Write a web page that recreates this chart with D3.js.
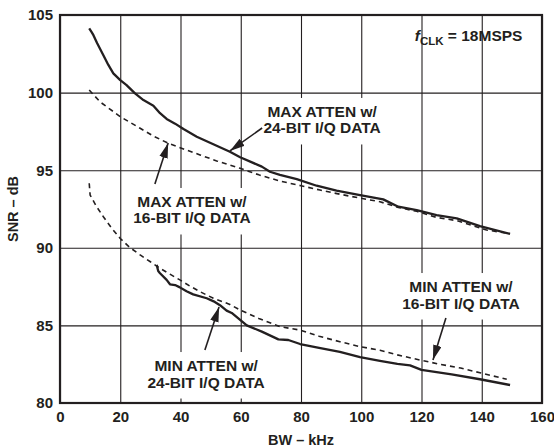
<!DOCTYPE html>
<html>
<head>
<meta charset="utf-8">
<script src="https://cdn.jsdelivr.net/npm/d3@7/dist/d3.min.js"></script>
<style>
  html, body { margin: 0; padding: 0; background: #fff; overflow: hidden; }
  svg { display: block; }
  text { font-family: "Liberation Sans", Arial, Helvetica, sans-serif; font-weight: bold; fill: #231f20; }
</style>
</head>
<body>
<div id="chart"></div>
<script>
/* global d3 */

// axis ticks
var bwTicks = [ 0, 20, 40, 60, 80, 100, 120, 140, 160 ];
var snrTicks = [ 80, 85, 90, 95, 100, 105 ];

// [BW kHz, SNR dB]
var max24 = [
  [ 9.7, 104.14 ], [ 10.5, 103.9 ], [ 11.1, 103.7 ], [ 12.3, 103.2 ], [ 14.4, 102.4 ],
  [ 16, 101.8 ], [ 17.7, 101.24 ], [ 20, 100.8 ], [ 22, 100.5 ], [ 24.9, 99.95 ],
  [ 27.7, 99.52 ], [ 31, 99.16 ], [ 33.2, 98.67 ], [ 35.4, 98.3 ], [ 38.2, 98.0 ],
  [ 41, 97.65 ], [ 45.4, 97.16 ], [ 50.9, 96.67 ], [ 56.4, 96.19 ], [ 59.8, 95.83 ],
  [ 67, 95.23 ], [ 69.7, 94.9 ], [ 73, 94.7 ], [ 78.6, 94.43 ], [ 85.2, 94.0 ],
  [ 91.8, 93.68 ], [ 99.6, 93.4 ], [ 107.3, 93.12 ], [ 112.3, 92.65 ], [ 118.4, 92.43 ],
  [ 125, 92.1 ], [ 131.7, 91.9 ], [ 139.4, 91.4 ], [ 149.4, 90.9 ]
];
var max16 = [
  [ 9.7, 100.17 ], [ 13.3, 99.4 ], [ 20, 98.45 ], [ 26.6, 97.7 ], [ 31, 97.2 ],
  [ 36, 96.73 ], [ 42, 96.3 ], [ 46.5, 95.98 ], [ 52, 95.6 ], [ 59.8, 95.12 ],
  [ 66, 94.7 ], [ 73, 94.3 ], [ 80, 94.0 ], [ 86.3, 93.72 ], [ 93, 93.45 ],
  [ 99.6, 93.2 ], [ 106.2, 92.97 ], [ 112.3, 92.6 ], [ 118.4, 92.35 ], [ 125, 91.96 ],
  [ 131.7, 91.75 ], [ 141.6, 91.15 ], [ 148, 90.95 ]
];
var min24 = [
  [ 32.1, 88.9 ], [ 32.6, 88.5 ], [ 33.2, 88.36 ], [ 35.4, 87.93 ], [ 36.5, 87.65 ],
  [ 38.2, 87.6 ], [ 39.8, 87.45 ], [ 42, 87.2 ], [ 44.2, 87.0 ], [ 48.7, 86.75 ],
  [ 51, 86.55 ], [ 53.1, 86.3 ], [ 55.3, 85.95 ], [ 57, 85.8 ], [ 59.8, 85.35 ],
  [ 62, 85.0 ], [ 67, 84.6 ], [ 72.5, 84.1 ], [ 75.8, 84.06 ], [ 79.7, 83.8 ],
  [ 86, 83.55 ], [ 92.9, 83.3 ], [ 99.6, 82.95 ], [ 106.2, 82.72 ], [ 112, 82.52 ],
  [ 116.2, 82.42 ], [ 120, 82.13 ], [ 130, 81.85 ], [ 139.4, 81.53 ], [ 149.4, 81.16 ]
];
var min16 = [
  [ 9.7, 94.16 ], [ 10, 93.4 ], [ 12, 92.7 ], [ 14.4, 92.0 ], [ 17, 91.3 ],
  [ 20, 90.6 ], [ 23, 90.05 ], [ 26.6, 89.54 ], [ 30, 89.1 ], [ 33.2, 88.68 ],
  [ 36.5, 88.3 ], [ 39.8, 87.93 ], [ 43, 87.55 ], [ 46.5, 87.17 ], [ 50.9, 86.75 ],
  [ 56.4, 86.35 ], [ 59.8, 85.99 ], [ 66, 85.45 ], [ 73, 84.92 ], [ 79.7, 84.7 ],
  [ 86, 84.3 ], [ 92.9, 83.95 ], [ 99.6, 83.63 ], [ 106.2, 83.4 ], [ 112, 83.1 ],
  [ 119.5, 82.77 ], [ 126, 82.5 ], [ 133, 82.25 ], [ 139.4, 81.95 ], [ 148.3, 81.53 ]
];

// callouts: text lines, label centre + arrow from/to in data units
var callouts = [
  { lines: [ "MAX ATTEN w/", "24-BIT I/Q DATA" ], at: [ 87, 98.43 ], from: [ 67.1, 97.72 ], to: [ 56.4, 96.24 ] },
  { lines: [ "MAX ATTEN w/", "16-BIT I/Q DATA" ], at: [ 43.8, 92.63 ], from: [ 31.5, 94.11 ], to: [ 35.9, 96.75 ] },
  { lines: [ "MIN ATTEN w/", "24-BIT I/Q DATA" ], at: [ 48.5, 82.06 ], from: [ 48.1, 83.41 ], to: [ 52.8, 86.19 ] },
  { lines: [ "MIN ATTEN w/", "16-BIT I/Q DATA" ], at: [ 133.1, 87.15 ], from: [ 128.1, 85.48 ], to: [ 123.8, 82.77 ] }
];

var width = 554,
  height = 448,
  margin = { top: 15, right: 12, bottom: 45, left: 60 };

var innerWidth = width - margin.left - margin.right,
  innerHeight = height - margin.top - margin.bottom;

var x = d3.scaleLinear().domain( [ 0, 160 ] ).range( [ 0, innerWidth ] );
var y = d3.scaleLinear().domain( [ 80, 105 ] ).range( [ innerHeight, 0 ] );

var svg = d3.select( "#chart" ).append( "svg" )
  .attr( "width", width )
  .attr( "height", height );

svg.append( "defs" ).append( "marker" )
  .attr( "id", "head" )
  .attr( "viewBox", "0 0 14 8" )
  .attr( "refX", 14 )
  .attr( "refY", 4 )
  .attr( "markerUnits", "userSpaceOnUse" )
  .attr( "markerWidth", 15 )
  .attr( "markerHeight", 9 )
  .attr( "orient", "auto" )
  .append( "path" )
    .attr( "d", "M0,0 L14,4 L0,8 Z" )
    .attr( "fill", "#231f20" );

var g = svg.append( "g" )
  .attr( "transform", "translate(" + margin.left + "," + margin.top + ")" );

// grid + tick labels
var xAxis = g.append( "g" )
  .attr( "transform", "translate(0," + innerHeight + ")" )
  .call( d3.axisBottom( x ).tickValues( bwTicks ).tickSize( -innerHeight ).tickPadding( 8 ) );
var yAxis = g.append( "g" )
  .call( d3.axisLeft( y ).tickValues( snrTicks ).tickSize( -innerWidth ).tickPadding( 7 ) );

[ xAxis, yAxis ].forEach( function( a ) {
  a.attr( "font-family", null ).attr( "font-size", null );
  a.select( ".domain" ).remove();
  a.selectAll( "line" ).attr( "stroke", "#231f20" ).attr( "stroke-width", 1.1 );
  a.selectAll( "text" ).attr( "font-size", 15 ).attr( "fill", null );
} );

// label backgrounds go above the grid, below the text
var boxLayer = g.append( "g" );

var line = d3.line()
  .x( function( d ) { return x( d[ 0 ] ); } )
  .y( function( d ) { return y( d[ 1 ] ); } );

function drawSeries( data, dashed ) {
  g.append( "path" )
    .datum( data )
    .attr( "fill", "none" )
    .attr( "stroke", "#231f20" )
    .attr( "stroke-width", dashed ? 1.6 : 2.3 )
    .attr( "stroke-dasharray", dashed ? "5,4" : null )
    .attr( "stroke-linejoin", "round" )
    .attr( "d", line );
}

drawSeries( max16, true );
drawSeries( min16, true );
drawSeries( max24, false );
drawSeries( min24, false );

// callouts
callouts.forEach( function( c ) {
  var t = g.append( "text" )
    .attr( "text-anchor", "middle" )
    .attr( "font-size", 15.5 );
  c.lines.forEach( function( s, i ) {
    t.append( "tspan" )
      .attr( "x", x( c.at[ 0 ] ) )
      .attr( "y", y( c.at[ 1 ] ) + i * 16.5 )
      .text( s );
  } );
  var bb = t.node().getBBox();
  boxLayer.append( "rect" )
    .attr( "x", bb.x - 5 )
    .attr( "y", bb.y - 5 )
    .attr( "width", bb.width + 10 )
    .attr( "height", bb.height + 13 )
    .attr( "fill", "#fff" );
  g.append( "line" )
    .attr( "x1", x( c.from[ 0 ] ) )
    .attr( "y1", y( c.from[ 1 ] ) )
    .attr( "x2", x( c.to[ 0 ] ) )
    .attr( "y2", y( c.to[ 1 ] ) )
    .attr( "stroke", "#231f20" )
    .attr( "stroke-width", 1.6 )
    .attr( "marker-end", "url(#head)" );
} );

// clock note
var clk = g.append( "text" )
  .attr( "x", x( 153.5 ) )
  .attr( "y", y( 103.3 ) )
  .attr( "text-anchor", "end" )
  .attr( "font-size", 15.5 );
clk.append( "tspan" ).attr( "font-style", "italic" ).text( "f" );
clk.append( "tspan" ).attr( "font-size", 11.5 ).attr( "dy", 4 ).text( "CLK" );
clk.append( "tspan" ).attr( "dy", -4 ).text( " = 18MSPS" );

// frame
g.append( "rect" )
  .attr( "width", innerWidth )
  .attr( "height", innerHeight )
  .attr( "fill", "none" )
  .attr( "stroke", "#231f20" )
  .attr( "stroke-width", 2.2 );

// axis titles
g.append( "text" )
  .attr( "x", innerWidth / 2 )
  .attr( "y", innerHeight + 42 )
  .attr( "text-anchor", "middle" )
  .attr( "font-size", 14.5 )
  .text( "BW – kHz" );

g.append( "text" )
  .attr( "transform", "translate(" + ( -42 ) + "," + ( innerHeight / 2 ) + ") rotate(-90)" )
  .attr( "text-anchor", "middle" )
  .attr( "font-size", 14.5 )
  .text( "SNR – dB" );
</script>
</body>
</html>
